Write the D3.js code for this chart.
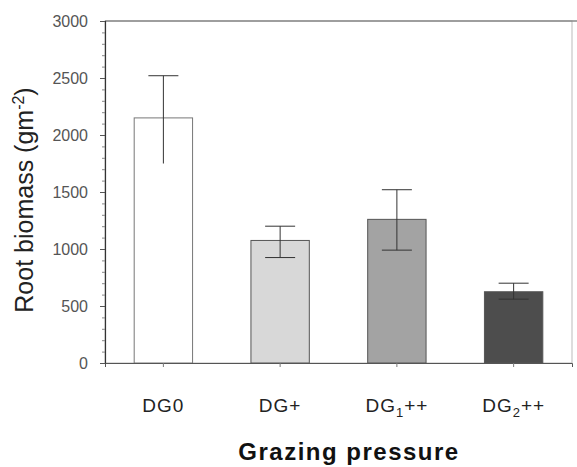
<!DOCTYPE html>
<html>
<head>
<meta charset="utf-8">
<script src="https://cdn.jsdelivr.net/npm/d3@7"></script>
<style>
  body { margin: 0; background: #fff; }
  svg { display: block; }
</style>
</head>
<body>
<div id="chart"></div>
<script>
// Root biomass by grazing pressure
const categories = ["DG0", "DG+", "DG1++", "DG2++"];
const means = [2150, 1075, 1260, 625];
const errHigh = [2520, 1200, 1520, 700];
const errLow = [1750, 925, 990, 560];
const lowerCap = [false, true, true, true];
const barColors = ["#ffffff", "#d8d8d8", "#a3a3a3", "#4d4d4d"];
const yTicks = [0, 500, 1000, 1500, 2000, 2500, 3000];

const W = 577, H = 467;
const plot = { left: 105, right: 572, top: 21, bottom: 363 };
const font = "'Liberation Sans', Arial, sans-serif";

const svg = d3.select("#chart").append("svg")
    .attr("width", W)
    .attr("height", H);

const x = d3.scaleBand()
    .domain(categories)
    .range([plot.left, plot.right])
    .paddingInner(0.5)
    .paddingOuter(0.25);

const y = d3.scaleLinear()
    .domain([0, 3000])
    .range([plot.bottom, plot.top]);

// Frame
svg.append("rect")
    .attr("x", plot.left)
    .attr("y", plot.top)
    .attr("width", plot.right - plot.left)
    .attr("height", plot.bottom - plot.top)
    .attr("fill", "none")
    .attr("stroke", "#bbb")
    .attr("stroke-width", 1);
svg.append("line")
    .attr("x1", plot.left).attr("x2", W)
    .attr("y1", plot.top).attr("y2", plot.top)
    .attr("stroke", "#888").attr("stroke-width", 1.5);

// Bars
svg.selectAll(".bar")
    .data(categories)
    .enter().append("rect")
    .attr("class", "bar")
    .attr("x", d => x(d))
    .attr("y", (d, i) => y(means[i]))
    .attr("width", x.bandwidth())
    .attr("height", (d, i) => y(0) - y(means[i]))
    .attr("fill", (d, i) => barColors[i])
    .attr("stroke", (d, i) => i === 0 ? "#777" : "#555")
    .attr("stroke-width", 1);

// Error bars
const capW = 30;
categories.forEach((c, i) => {
    const cx = x(c) + x.bandwidth() / 2;
    svg.append("line")
        .attr("x1", cx).attr("x2", cx)
        .attr("y1", y(errHigh[i])).attr("y2", y(errLow[i]))
        .attr("stroke", "#333").attr("stroke-width", 1);
    svg.append("line")
        .attr("x1", cx - capW / 2).attr("x2", cx + capW / 2)
        .attr("y1", y(errHigh[i])).attr("y2", y(errHigh[i]))
        .attr("stroke", "#333").attr("stroke-width", 1);
    if (lowerCap[i]) {
        svg.append("line")
            .attr("x1", cx - capW / 2).attr("x2", cx + capW / 2)
            .attr("y1", y(errLow[i])).attr("y2", y(errLow[i]))
            .attr("stroke", "#333").attr("stroke-width", 1);
    }
});

// Y axis
const yAxis = svg.append("g")
    .attr("transform", `translate(${plot.left},0)`)
    .call(d3.axisLeft(y).tickValues(yTicks).tickSize(5).tickPadding(12).tickFormat(d3.format("d")));
yAxis.select(".domain").attr("stroke", "#333").attr("stroke-width", 1.2);
yAxis.selectAll(".tick line").attr("stroke", "#555");
yAxis.selectAll("text")
    .attr("fill", "#555")
    .attr("font-size", "16px")
    .attr("font-family", font);

// Minor ticks
svg.append("g")
    .attr("transform", `translate(${plot.left},0)`)
    .call(d3.axisLeft(y).tickValues(d3.range(100, 3000, 100).filter(v => v % 500 !== 0)).tickSize(3).tickFormat(""))
    .call(g => g.select(".domain").remove())
    .selectAll(".tick line").attr("stroke", "#888");

// X axis
const xAxis = svg.append("g")
    .attr("transform", `translate(0,${plot.bottom})`)
    .call(d3.axisBottom(x).tickSize(4).tickFormat(""));
xAxis.select(".domain").attr("stroke", "#555");
xAxis.selectAll(".tick line").attr("stroke", "#777");

// X labels with subscripts
const labelParts = [["DG0", "", ""], ["DG+", "", ""], ["DG", "1", "++"], ["DG", "2", "++"]];
categories.forEach((c, i) => {
    const t = svg.append("text")
        .attr("x", x(c) + x.bandwidth() / 2)
        .attr("y", 412)
        .attr("text-anchor", "middle")
        .attr("font-size", "19px")
        .attr("font-family", font)
        .attr("letter-spacing", "1px")
        .attr("fill", "#222");
    const p = labelParts[i];
    t.append("tspan").text(p[0]);
    if (p[1]) {
        t.append("tspan").attr("font-size", "13px").attr("dy", 5).text(p[1]);
        t.append("tspan").attr("dy", -5).text(p[2]);
    }
});

// Axis titles
svg.append("text")
    .attr("x", 349)
    .attr("y", 460)
    .attr("text-anchor", "middle")
    .attr("font-size", "24px")
    .attr("font-weight", "bold")
    .attr("letter-spacing", "1.5px")
    .attr("font-family", font)
    .attr("fill", "#111")
    .text("Grazing pressure");

const yl = svg.append("text")
    .attr("transform", "translate(33,200) rotate(-90)")
    .attr("text-anchor", "middle")
    .attr("font-size", "25px")
    .attr("font-family", font)
    .attr("fill", "#222");
yl.append("tspan").text("Root biomass (gm");
yl.append("tspan").attr("font-size", "16px").attr("dy", -9).text("-2");
yl.append("tspan").attr("dy", 9).text(")");
</script>
</body>
</html>
